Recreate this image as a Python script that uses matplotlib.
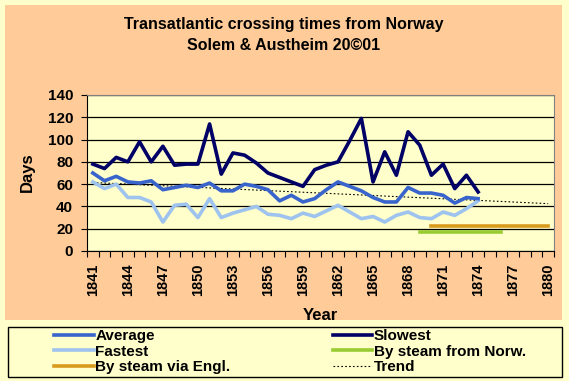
import numpy as np
import matplotlib
matplotlib.use("Agg")
import matplotlib.pyplot as plt
from matplotlib.patches import Rectangle

plt.rcParams['font.family'] = ['Liberation Sans', 'DejaVu Sans']
plt.rcParams['font.weight'] = 'bold'

years = list(range(1841, 1881))
data_years = list(range(1841, 1875))

slowest = [78, 74, 84, 80, 98, 80, 94, 77, 78, 78, 114, 69, 88, 86, 79, 70, 66, 62,
           58, 73, 77, 80, 99, 119, 62, 89, 68, 107, 95, 68, 78, 56, 68, 53]
average = [70, 63, 67, 62, 61, 63, 55, 57, 59, 57, 61, 54, 54, 60, 58, 55, 45, 50,
           44, 47, 55, 62, 58, 54, 48, 44, 44, 57, 52, 52, 50, 43, 48, 47]
fastest = [62, 56, 60, 48, 48, 44, 26, 41, 42, 30, 47, 30, 34, 37, 40, 33, 32, 29,
           34, 31, 36, 41, 35, 29, 31, 26, 32, 35, 30, 29, 35, 32, 38, 45]

steam_norw_years = [1869, 1876]
steam_norw = [17, 17]
steam_engl_years = [1870, 1880]
steam_engl = [22, 22]
trend_years = [1841, 1880]
trend = [61.5, 42.5]

W, H = 569, 381
fig = plt.figure(figsize=(W / 100, H / 100), dpi=100)
fig.patch.set_facecolor('#FFFFCC')

# peach chart area
fig.patches.append(Rectangle((5 / W, 1 - 320 / H), 557 / W, 315 / H,
                             transform=fig.transFigure, facecolor='#FFCC99',
                             edgecolor='none', zorder=-10))

ax = fig.add_axes([87 / W, 1 - 251 / H, 467 / W, 156 / H])
ax.set_facecolor('#FFFFCC')


def idx(ys):
    return [y - 1841 for y in ys]


ax.plot(idx(trend_years), trend, color='black', lw=0.8, ls=(0, (1.5, 2)), zorder=3)
ax.plot(idx(data_years), fastest, color='#9DC3EE', lw=2.6, zorder=4)
ax.plot(idx(data_years), average, color='#3864CC', lw=2.6, zorder=5)
ax.plot(idx(data_years), slowest, color='#000066', lw=2.6, zorder=6)
ax.plot(idx(steam_norw_years), steam_norw, color='#99CC33', lw=2.6, zorder=4)
ax.plot(idx(steam_engl_years), steam_engl, color='#D99B1E', lw=2.6, zorder=4)

ax.set_xlim(-0.5, 39.5)
ax.set_ylim(0, 140)
ax.set_yticks(range(0, 141, 20))
ax.grid(axis='y', color='black', lw=0.9)
ax.set_axisbelow(True)

ax.set_xticks(range(0, 40, 3))
ax.set_xticklabels([str(y) for y in years[::3]], rotation=90, fontsize=10.5,
                   fontweight='bold')
ax.set_xticks(np.arange(-0.5, 40, 1), minor=True)
ax.tick_params(axis='x', which='major', length=0, pad=9)
ax.tick_params(axis='x', which='minor', length=4, width=0.8, direction='out')
ax.tick_params(axis='y', length=4, width=0.8, labelsize=11, pad=6)
for lab in ax.get_yticklabels():
    lab.set_fontweight('bold')

ax.spines['left'].set_color('black')
ax.spines['bottom'].set_color('black')
ax.spines['top'].set_color('#808080')
ax.spines['right'].set_color('#808080')
for s in ax.spines.values():
    s.set_linewidth(0.8)

fig.text(284 / W, 1 - 25 / H, 'Transatlantic crossing times from Norway',
         ha='center', va='center', fontsize=11.5, fontweight='bold')
fig.text(284 / W, 1 - 46 / H, 'Solem & Austheim 20\u00a901',
         ha='center', va='center', fontsize=11.5, fontweight='bold')
fig.text(27 / W, 1 - 172 / H, 'Days', rotation=90, ha='center', va='center',
         fontsize=12, fontweight='bold')
fig.text(320 / W, 1 - 315 / H, 'Year', ha='center', va='center',
         fontsize=12, fontweight='bold')

# legend box
fig.patches.append(Rectangle((8 / W, 1 - 377 / H), 554 / W, 50 / H,
                             transform=fig.transFigure, facecolor='#FFFFCC',
                             edgecolor='black', lw=1, zorder=1))
h = [
    plt.Line2D([], [], color='#3864CC', lw=2.6),
    plt.Line2D([], [], color='#9DC3EE', lw=2.6),
    plt.Line2D([], [], color='#D99B1E', lw=2.6),
    plt.Line2D([], [], color='#000066', lw=2.6),
    plt.Line2D([], [], color='#99CC33', lw=2.6),
    plt.Line2D([], [], color='black', lw=0.8, ls=(0, (1.5, 2))),
]
labels = ['Average', 'Fastest', 'By steam via Engl.', 'Slowest',
          'By steam from Norw.', 'Trend']
leg = fig.legend(h, labels, ncol=2, loc='upper left',
                 bbox_to_anchor=(54 / W, 1 - 329 / H), frameon=False,
                 fontsize=11, handlelength=2.6, handletextpad=0.1,
                 labelspacing=0.1, columnspacing=6.7, borderpad=0,
                 borderaxespad=0)
for t in leg.get_texts():
    t.set_fontweight('bold')

fig.savefig('out.png', dpi=100, facecolor=fig.get_facecolor())
